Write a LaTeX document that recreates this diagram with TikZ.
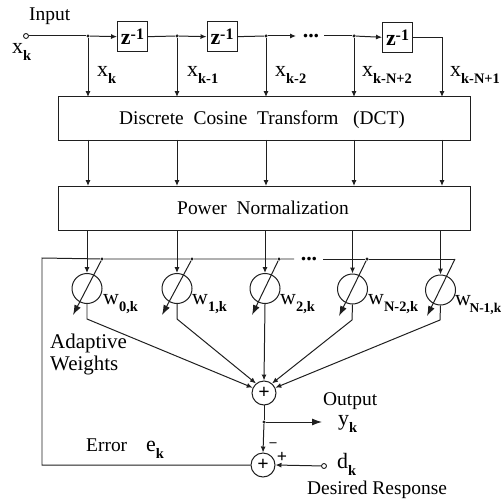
\documentclass[tikz,border=0pt]{standalone}
\usepackage{fontspec}
\setmainfont{Liberation Serif}
\usetikzlibrary{arrows.meta}
\newcommand{\lab}[2]{#1\raisebox{-7pt}{\fontsize{14.5}{14.5}\selectfont\bfseries #2}}
\tikzset{
  wire/.style={line width=1pt,black!88},
  arr/.style={wire,-{Latex[length=6pt,width=5pt]}},
  bigarr/.style={wire,-{Latex[length=10pt,width=7pt]}},
  blockbox/.style={draw=black!88,line width=1pt,minimum width=412bp,inner sep=0pt},
  zbox/.style={draw=black!88,line width=1pt,minimum width=30bp,minimum height=30bp,inner sep=0pt,font=\fontsize{22}{22}\selectfont\bfseries},
  weight/.style={draw=black!88,circle,line width=1pt,minimum size=30bp,inner sep=0pt},
  sumnode/.style={draw=black!88,circle,line width=1pt,minimum size=24bp,inner sep=0pt,font=\fontsize{20}{20}\selectfont\bfseries},
  tap/.style={circle,fill=black!88,minimum size=3.5pt,inner sep=0pt},
  port/.style={circle,draw=black!88,fill=white,line width=0.9pt,minimum size=5pt,inner sep=0pt},
  txt/.style={inner sep=0pt,font=\fontsize{19.5}{19.5}\selectfont},
  sym/.style={inner sep=0pt,anchor=west,font=\fontsize{22}{22}\selectfont},
  dotsym/.style={inner sep=0pt,font=\fontsize{22}{22}\selectfont\bfseries}
}
\begin{document}
\begin{tikzpicture}[x=1bp,y=-1bp]
\useasboundingbox (0,0) rectangle (501,502);
% input line
\node[port] (in) at (26,36) {};
\node[tap] (t0) at (88,36) {};
\node[tap] (t1) at (177,36) {};
\node[tap] (t2) at (266,36) {};
\node[tap] (t3) at (354,36) {};
\node[zbox] (z1) at (132.5,37) {z\raisebox{5pt}{\fontsize{16}{16}\selectfont -1}};
\node[zbox] (z2) at (222,37) {z\raisebox{5pt}{\fontsize{16}{16}\selectfont -1}};
\node[zbox] (z3) at (397.5,38) {z\raisebox{5pt}{\fontsize{16}{16}\selectfont -1}};
\node[dotsym] (dots1) at (311,36) {...};
\coordinate (d1l) at (296,36);
\coordinate (d1r) at (324,36);
\node[blockbox,minimum height=43bp] (dct) at (264.5,118.5) {};
\node[blockbox,minimum height=44bp] (pow) at (264.5,208) {};
\node[txt] (dcttext) at (262,120) {Discrete\ \ Cosine\ \ Transform\ \ \ (DCT)};
\node[txt] (powtext) at (263,208) {Power\ \ Normalization};
\draw[wire] (in) -- (t0);
\draw[arr] (t0) -- (z1);
\draw[wire] (z1) -- (t1);
\draw[arr] (t1) -- (z2);
\draw[wire] (z2) -- (t2);
\draw[arr] (t2) -- (d1l);
\draw[wire] (d1r) -- (t3);
\draw[arr] (t3) -- (z3);
\draw[arr] (z3.east) -| (442,97);
\foreach \a/\x in {t0/88,t1/177,t2/266,t3/354}{\draw[arr] (\a) -- (\x,97);}
\foreach \x in {88,177,266,354,442}{\draw[arr] (\x,140) -- (\x,186);}
% weights
\node[weight] (w0) at (87,288.5) {};
\node[weight] (w1) at (177,288.5) {};
\node[weight] (w2) at (265,288.5) {};
\node[weight] (w3) at (352.5,289) {};
\node[weight] (w4) at (440.5,290) {};
\foreach \x/\w in {87/w0,177/w1,265/w2,352.5/w3,440.5/w4}{\draw[arr] (\x,230) -- (\w.north);}
% sums
\node[sumnode] (s1) at (264,393) {+};
\node[sumnode] (s2) at (263,465) {+};
\node[tap] (t4) at (264,422) {};
\node[port] (dk) at (324,466) {};
% feedback
\coordinate (fbr) at (455,259);
\node[tap] (c0) at (102,259) {};
\node[tap] (c1) at (192,259) {};
\node[tap] (c2) at (279,259) {};
\node[tap] (c3) at (367,259) {};
\coordinate (d2l) at (294,259);
\coordinate (d2r) at (323,259);
\node[dotsym] (dots2) at (309,259) {...};
\draw[wire] (s2.west) -- (42,465) -- (42,258) -- (c0) -- (c1) -- (c2) -- (d2l);
\draw[wire] (d2r) -- (c3) -- (fbr);
\foreach \a/\x/\y in {c0/73/315,c1/162/315,c2/252/315,c3/339/316,fbr/427/316}{\draw[bigarr] (\a) -- (\x,\y);}
% weights to sum
\draw[arr] (w0.south) -- (87,319) -- (s1.155);
\draw[arr] (w1.south) -- (177,319) -- (s1.130);
\draw[arr] (w2.south) -- (s1.north);
\draw[arr] (w3.south) -- (352,320) -- (s1.50);
\draw[arr] (w4.south) -- (440,320) -- (s1.25);
\draw[wire] (s1) ++(0,12) -- (t4);
\coordinate (oute) at (322,422);
\draw[bigarr] (t4) -- (oute);
\draw[arr] (t4) -- (s2.north);
\draw[arr] (dk) -- (s2.east);
% labels
\node[txt,anchor=west] (lin) at (29,16) {Input};
\node[sym] (lx) at (12,52) {\lab{x}{k}};
\node[sym] (l0) at (97,75) {\lab{x}{k}};
\node[sym] (l1) at (187,75) {\lab{x}{k-1}};
\node[sym] (l2) at (275,75) {\lab{x}{k-2}};
\node[sym] (l3) at (362,75) {\lab{x}{k-N+2}};
\node[sym] (l4) at (450,75) {\lab{x}{k-N+1}};
\node[sym] (lwa) at (103,304) {\lab{w}{0,k}};
\node[sym] (lwb) at (192,304) {\lab{w}{1,k}};
\node[sym] (lwc) at (280,304) {\lab{w}{2,k}};
\node[sym] (lwd) at (368,304) {\lab{w}{N-2,k}};
\node[sym] (lwe) at (456,305) {\lab{\kern-1pt w\kern-1.5pt}{\fontsize{13.5}{13.5}\selectfont N-1,k}};
\node[inner sep=0pt,anchor=west,font=\fontsize{21}{21}\selectfont] (lad1) at (50,343) {Adaptive};
\node[inner sep=0pt,anchor=west,font=\fontsize{21}{21}\selectfont] (lad2) at (50,365) {Weights};
\node[txt,anchor=west] (lo) at (323,401) {Output};
\node[sym] (ly) at (338,424) {\lab{y}{k}};
\node[txt,anchor=west] (le) at (86,445) {Error};
\node[sym] (lek) at (146,450) {\lab{e}{k}};
\node[sym] (ld) at (337,464) {\lab{d}{k}};
\node[txt,anchor=west] (ldr) at (307,490) {Desired Response};
\node[inner sep=0pt,font=\fontsize{14}{14}\selectfont\bfseries] (lm) at (273,445) {--};
\node[inner sep=0pt,font=\fontsize{18}{18}\selectfont\bfseries] (lp) at (282,457) {+};
\end{tikzpicture}
\end{document}
